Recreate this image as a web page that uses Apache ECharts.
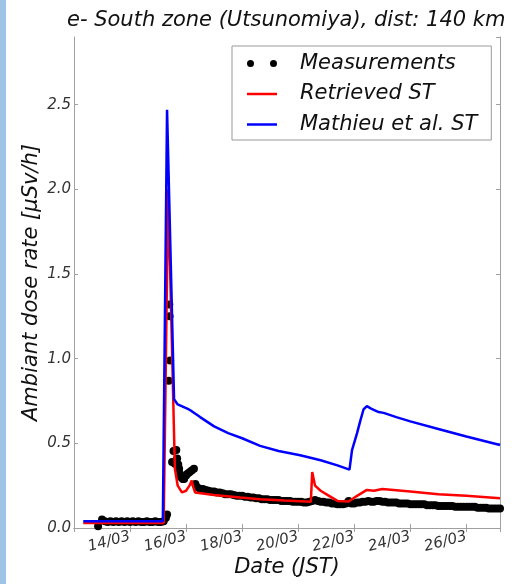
<!DOCTYPE html>
<html>
<head>
<meta charset="utf-8">
<script src="https://cdn.jsdelivr.net/npm/echarts@6/dist/echarts.min.js"></script>
<style>
  html, body { margin: 0; padding: 0; background: #fff; }
  #container { width: 521px; height: 584px; }
</style>
</head>
<body>
<div id="container"></div>
<script>
  // days of March (fractional), dose rate in µSv/h
  var xTicks = [14, 16, 18, 20, 22, 24, 26];

  var measurements = [
    [12.86, 0.01], [13.0, 0.05], [13.1, 0.04], [13.2, 0.035], [13.3, 0.04], [13.4, 0.035],
    [13.5, 0.04], [13.6, 0.035], [13.7, 0.04], [13.8, 0.035], [13.9, 0.04], [14.0, 0.035],
    [14.1, 0.04], [14.2, 0.035], [14.3, 0.04], [14.4, 0.035], [14.5, 0.035], [14.6, 0.04],
    [14.7, 0.035], [14.8, 0.035], [14.9, 0.04], [15.0, 0.035], [15.1, 0.035], [15.2, 0.04],
    [15.28, 0.06], [15.32, 0.08],
    [15.38, 0.87], [15.4, 1.32], [15.41, 1.25], [15.43, 0.99],
    [15.5, 0.39], [15.55, 0.455], [15.6, 0.38], [15.65, 0.46], [15.68, 0.41], [15.72, 0.375],
    [15.75, 0.35], [15.78, 0.32], [15.82, 0.30], [15.88, 0.29], [15.93, 0.29], [16.0, 0.31],
    [16.05, 0.32], [16.12, 0.33], [16.2, 0.34], [16.28, 0.35], [16.33, 0.26], [16.4, 0.24],
    [16.5, 0.23], [16.6, 0.23], [16.7, 0.225], [16.8, 0.22], [16.9, 0.215], [17.0, 0.215],
    [17.1, 0.21], [17.2, 0.21], [17.3, 0.205], [17.4, 0.2], [17.5, 0.2], [17.6, 0.2],
    [17.7, 0.195], [17.8, 0.19], [17.9, 0.19], [18.0, 0.19], [18.1, 0.185], [18.2, 0.185],
    [18.3, 0.18], [18.4, 0.18], [18.5, 0.175], [18.6, 0.175], [18.7, 0.17], [18.8, 0.17],
    [18.9, 0.17], [19.0, 0.165], [19.1, 0.165], [19.2, 0.165], [19.3, 0.165], [19.4, 0.16],
    [19.5, 0.16], [19.6, 0.16], [19.7, 0.16], [19.8, 0.155], [19.9, 0.155], [20.0, 0.155],
    [20.1, 0.155], [20.2, 0.15], [20.3, 0.15], [20.4, 0.155], [20.5, 0.16], [20.6, 0.165],
    [20.7, 0.16], [20.8, 0.155], [20.9, 0.155], [21.0, 0.15], [21.1, 0.15], [21.2, 0.145],
    [21.3, 0.145], [21.4, 0.14], [21.5, 0.14], [21.6, 0.14], [21.7, 0.145], [21.8, 0.16],
    [21.9, 0.145], [22.0, 0.145], [22.1, 0.15], [22.2, 0.15], [22.3, 0.155], [22.4, 0.155],
    [22.5, 0.16], [22.6, 0.155], [22.7, 0.155], [22.8, 0.16], [22.9, 0.16], [23.0, 0.155],
    [23.1, 0.155], [23.2, 0.15], [23.3, 0.15], [23.4, 0.15], [23.5, 0.15], [23.6, 0.145],
    [23.7, 0.145], [23.8, 0.145], [23.9, 0.145], [24.0, 0.14], [24.1, 0.14], [24.2, 0.14],
    [24.3, 0.14], [24.4, 0.14], [24.5, 0.14], [24.6, 0.135], [24.7, 0.135], [24.8, 0.135],
    [24.9, 0.135], [25.0, 0.13], [25.1, 0.13], [25.2, 0.13], [25.3, 0.13], [25.4, 0.13],
    [25.5, 0.13], [25.6, 0.125], [25.7, 0.125], [25.8, 0.125], [25.9, 0.125], [26.0, 0.125],
    [26.1, 0.125], [26.2, 0.125], [26.3, 0.125], [26.4, 0.12], [26.5, 0.12], [26.6, 0.12],
    [26.7, 0.12], [26.8, 0.115], [26.9, 0.115], [27.0, 0.115], [27.1, 0.115], [27.2, 0.115]
  ];

  var retrieved = [
    [12.33, 0.03], [15.2, 0.03], [15.36, 2.0], [15.6, 0.35], [15.7, 0.25], [15.85, 0.21],
    [16.0, 0.22], [16.12, 0.25], [16.2, 0.28], [16.26, 0.24], [16.32, 0.21], [17.0, 0.195],
    [17.93, 0.18], [18.64, 0.17], [19.5, 0.162], [20.45, 0.155], [20.5, 0.33], [20.6, 0.25],
    [20.8, 0.22], [21.1, 0.19], [21.4, 0.16], [21.8, 0.157], [22.1, 0.19], [22.45, 0.225],
    [22.7, 0.22], [23.0, 0.23], [24.0, 0.215], [25.0, 0.2], [26.0, 0.19], [27.2, 0.176]
  ];

  var mathieu = [
    [12.33, 0.04], [15.17, 0.04], [15.32, 2.47], [15.57, 0.76], [15.7, 0.73], [15.9, 0.715],
    [16.1, 0.70], [16.15, 0.705], [16.2, 0.69], [16.5, 0.655], [17.0, 0.6], [17.5, 0.56],
    [18.0, 0.53], [18.64, 0.485], [19.3, 0.455], [20.07, 0.43], [20.8, 0.40], [21.4, 0.37],
    [21.83, 0.345], [21.92, 0.46], [22.1, 0.56], [22.21, 0.63], [22.33, 0.70], [22.45, 0.72],
    [22.6, 0.705], [22.87, 0.685], [23.05, 0.68], [23.5, 0.655], [24.0, 0.63], [25.0, 0.585],
    [26.0, 0.54], [27.2, 0.49]
  ];

  var FONT = 'DejaVu Sans';
  var GREY = '#a0a0a0';

  var myChart = echarts.init(document.getElementById('container'));

  function dayLabel(v) {
    return xTicks.indexOf(v) >= 0 ? v + '/03' : '';
  }

  var option = {
    animation: false,
    backgroundColor: '#fff',
    textStyle: { fontFamily: FONT },
    graphic: [
      { type: 'rect', shape: { x: 0, y: 0, width: 6, height: 584 }, style: { fill: '#9dc3e6' } }
    ],
    title: {
      text: 'e- South zone (Utsunomiya), dist: 140 km',
      left: 67,
      top: 10,
      padding: 0,
      textStyle: { fontFamily: FONT, fontSize: 21, fontStyle: 'italic', fontWeight: 'normal', color: '#111' }
    },
    legend: {
      orient: 'vertical',
      left: 232,
      top: 46,
      padding: [7, 14, 5, 15],
      borderColor: '#999',
      borderWidth: 1,
      itemWidth: 30,
      itemHeight: 7,
      itemGap: 9.5,
      selectedMode: false,
      textStyle: { fontFamily: FONT, fontSize: 21, fontStyle: 'italic', color: '#111', padding: [0, 0, 0, 18] },
      data: [
        { name: 'Measurements', icon: 'path://M0,3.5a3.5,3.5 0 1,0 7,0a3.5,3.5 0 1,0 -7,0zM23,3.5a3.5,3.5 0 1,0 7,0a3.5,3.5 0 1,0 -7,0z' },
        { name: 'Retrieved ST', icon: 'path://M0,0h30v2.5h-30z' },
        { name: 'Mathieu et al. ST', icon: 'path://M0,0h30v2.5h-30z' }
      ]
    },
    grid: { left: 74, right: 21, top: 37, bottom: 56 },
    xAxis: [
      {
        type: 'value', min: 12, max: 27.2, interval: 2,
        axisLine: { show: true, lineStyle: { color: GREY, width: 1 } },
        axisTick: { show: true, inside: true, length: 4, lineStyle: { color: GREY } },
        splitLine: { show: false },
        axisLabel: {
          rotate: 15, margin: 8, fontSize: 15, fontStyle: 'italic', color: '#333',
          showMinLabel: false, showMaxLabel: false, formatter: dayLabel
        },
        name: 'Date (JST)', nameLocation: 'middle', nameGap: 29, nameMoveOverlap: false,
        nameTextStyle: { fontFamily: FONT, fontSize: 21, fontStyle: 'italic', color: '#111' }
      },
      {
        type: 'value', min: 12, max: 27.2, interval: 2, position: 'top',
        axisLine: { show: true, lineStyle: { color: GREY, width: 1 } },
        axisTick: { show: true, inside: true, length: 4, lineStyle: { color: GREY } },
        splitLine: { show: false },
        axisLabel: { show: false }
      }
    ],
    yAxis: [
      {
        type: 'value', min: 0, max: 2.9, interval: 0.5,
        axisLine: { show: true, lineStyle: { color: GREY, width: 1 } },
        axisTick: { show: true, inside: true, length: 4, lineStyle: { color: GREY } },
        splitLine: { show: false },
        axisLabel: {
          margin: 3, fontSize: 15, fontStyle: 'italic', color: '#333', showMaxLabel: false,
          formatter: function (v) { return v.toFixed(1); }
        },
        name: 'Ambiant dose rate [\u03bcSv/h]', nameLocation: 'middle', nameGap: 32, nameMoveOverlap: false,
        nameTextStyle: { fontFamily: FONT, fontSize: 21, fontStyle: 'italic', color: '#111' }
      },
      {
        type: 'value', min: 0, max: 2.9, interval: 0.5, position: 'right',
        axisLine: { show: true, lineStyle: { color: GREY, width: 1 } },
        axisTick: { show: true, inside: true, length: 4, lineStyle: { color: GREY } },
        splitLine: { show: false },
        axisLabel: { show: false }
      }
    ],
    series: [
      {
        name: 'Measurements', type: 'scatter', data: measurements,
        symbol: 'circle', symbolSize: 8,
        itemStyle: { color: '#000', opacity: 1 }
      },
      {
        name: 'Retrieved ST', type: 'line', data: retrieved,
        symbol: 'none', showSymbol: false,
        itemStyle: { color: '#ff0000' },
        lineStyle: { color: '#ff0000', width: 2.5 }
      },
      {
        name: 'Mathieu et al. ST', type: 'line', data: mathieu,
        symbol: 'none', showSymbol: false,
        itemStyle: { color: '#0000ff' },
        lineStyle: { color: '#0000ff', width: 2.5 }
      }
    ]
  };

  myChart.setOption(option, true);
</script>
</body>
</html>
